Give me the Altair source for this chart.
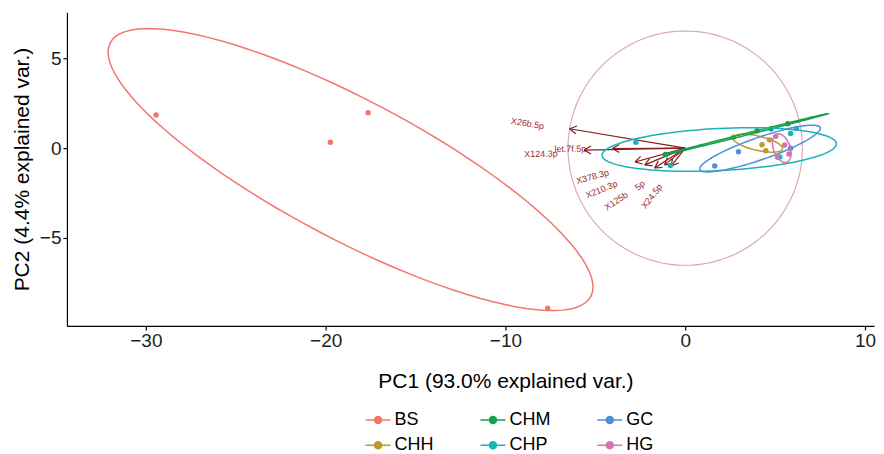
import numpy as np
import pandas as pd
import altair as alt

# ---------------- data ----------------
groups = ["BS", "CHH", "CHM", "CHP", "GC", "HG"]
group_colors = ["#F3766E", "#B99C27", "#13A24A", "#17B4BA", "#4F8FD6", "#D672B5"]
legend_order = ["BS", "CHM", "GC", "CHH", "CHP", "HG"]

bs_pc1 = [-29.43, -19.74, -17.64, -7.65]
bs_pc2 = [1.84, 0.33, 1.97, -8.91]
chh_pc1 = [2.68, 4.27, 4.48, 4.69]
chh_pc2 = [0.60, 0.19, -0.15, 0.46]
chm_pc1 = [-1.10, 4.00, 4.77, 5.70]
chm_pc2 = [-0.36, 0.97, 1.08, 1.36]
chp_pc1 = [-2.74, -0.82, 5.86, 5.26]
chp_pc2 = [0.33, -0.97, 0.82, -0.49]
gc_pc1 = [1.64, 2.96, 5.86, 6.19]
gc_pc2 = [-0.99, -0.20, 0.00, 1.10]
hg_pc1 = [5.04, 5.53, 5.13, 5.77]
hg_pc2 = [0.66, 0.18, -0.51, -0.33]

var_names = ["X26b.5p", "let.7f.5p", "X124.3p", "X378.3p", "X210.3p", "X125b", "5p", "X24.5p"]
var_pc1 = [-6.43, -4.05, -5.62, -2.79, -2.25, -1.70, -1.15, -0.77]
var_pc2 = [1.08, -0.02, -0.11, -0.77, -0.93, -1.10, -0.93, -0.99]
label_pc1 = [-8.77, -6.39, -8.03, -5.15, -4.66, -3.84, -2.52, -1.86]
label_pc2 = [1.37, -0.04, -0.32, -1.59, -2.30, -2.94, -2.08, -2.68]

circle_radius = 6.52
ellipse_prob = 0.68
x_ticks = [-30, -20, -10, 0, 10]
y_ticks = [-5, 0, 5]

# ---------------- tables ----------------
pc1 = {"BS": bs_pc1, "CHH": chh_pc1, "CHM": chm_pc1, "CHP": chp_pc1, "GC": gc_pc1, "HG": hg_pc1}
pc2 = {"BS": bs_pc2, "CHH": chh_pc2, "CHM": chm_pc2, "CHP": chp_pc2, "GC": gc_pc2, "HG": hg_pc2}

pts = pd.DataFrame(
    [(g, a, b) for g in groups for a, b in zip(pc1[g], pc2[g])],
    columns=["grp", "PC1", "PC2"],
)

# normal-theory ellipses (as in ggbiplot)
ed = np.sqrt(-2.0 * np.log(1.0 - ellipse_prob))
theta = np.linspace(-np.pi, np.pi, 101)
unit = np.column_stack([np.cos(theta), np.sin(theta)])
ell_rows = []
for g in groups:
    m = np.column_stack([pc1[g], pc2[g]])
    mu = m.mean(axis=0)
    sigma = np.cov(m, rowvar=False)
    L = np.linalg.cholesky(sigma)
    e = unit @ L.T * ed + mu
    for i, (a, b) in enumerate(e):
        ell_rows.append((g, i, a, b))
ell = pd.DataFrame(ell_rows, columns=["group", "order", "PC1", "PC2"])

circ = pd.DataFrame({
    "order": np.arange(101),
    "PC1": circle_radius * np.cos(np.linspace(0, 2 * np.pi, 101)),
    "PC2": circle_radius * np.sin(np.linspace(0, 2 * np.pi, 101)),
})

# arrows: shafts + open heads
head_len = 0.44
head_ang = np.deg2rad(30)
seg_rows = []
for vx, vy in zip(var_pc1, var_pc2):
    seg_rows.append((0.0, 0.0, vx, vy))
    ang = np.arctan2(vy, vx)
    for s in (-1, 1):
        a = ang + np.pi + s * head_ang
        seg_rows.append((vx, vy, vx + head_len * np.cos(a), vy + head_len * np.sin(a)))
segs = pd.DataFrame(seg_rows, columns=["x", "y", "x2", "y2"])

labs = pd.DataFrame({
    "name": var_names,
    "PC1": label_pc1,
    "PC2": label_pc2,
    "ang": [(-np.degrees(np.arctan(vy / vx))) % 360 for vx, vy in zip(var_pc1, var_pc2)],
})

# ---------------- chart ----------------
FONT = "Liberation Sans"
W, H = 808, 314
xs = alt.Scale(domain=[-34.39, 10.5], nice=False, zero=False)
ys = alt.Scale(domain=[-9.89, 7.56], nice=False, zero=False)

x_axis = alt.Axis(values=x_ticks, grid=False, title="PC1 (93.0% explained var.)",
                  titleX=439, titleFontSize=21, titleFontWeight="normal", titleFont=FONT,
                  titleColor="black", titlePadding=20, labelFontSize=19, labelFont=FONT,
                  labelColor="#222222", labelPadding=2, tickSize=4, tickColor="black",
                  domainColor="black", domainWidth=1.2, tickWidth=1.2)
y_axis = alt.Axis(values=y_ticks, grid=False, title="PC2 (4.4% explained var.)",
                  titleFontSize=21, titleFontWeight="normal", titleFont=FONT,
                  titleColor="black", titlePadding=7, labelFontSize=19, labelFont=FONT,
                  labelColor="#222222", labelPadding=2, tickSize=4, tickColor="black",
                  domainColor="black", domainWidth=1.2, tickWidth=1.2)

sym_path = "M-1,0L1,0M-0.28,0A0.28,0.28,0,1,0,0.28,0A0.28,0.28,0,1,0,-0.28,0Z"
legend = alt.Legend(
    orient="none", legendX=298, legendY=394.5, direction="horizontal", columns=3,
    title=None, symbolType=sym_path, symbolSize=625, symbolStrokeWidth=1.5,
    labelFontSize=18, labelFont=FONT, labelColor="black",
    labelOffset=3, columnPadding=44, rowPadding=2.6, padding=0, symbolOpacity=1,
)

range_ordered = [group_colors[groups.index(g)] for g in legend_order]
fill_enc = alt.Fill("grp:N", scale=alt.Scale(domain=legend_order, range=range_ordered),
                    legend=legend)
stroke_enc = alt.Stroke("group:N", scale=alt.Scale(domain=legend_order, range=range_ordered),
                        legend=legend)

circle_layer = alt.Chart(circ).mark_line(color="#D9A3B6", strokeWidth=1.1).encode(
    x=alt.X("PC1:Q", scale=xs, axis=x_axis),
    y=alt.Y("PC2:Q", scale=ys, axis=y_axis),
    order="order:Q",
)
arrow_layer = alt.Chart(segs).mark_rule(color="#8B1A1A", strokeWidth=1.2).encode(
    x=alt.X("x:Q", scale=xs), y=alt.Y("y:Q", scale=ys), x2="x2:Q", y2="y2:Q",
)
point_layer = alt.Chart(pts).mark_point(filled=True, size=30, opacity=1).encode(
    x=alt.X("PC1:Q", scale=xs), y=alt.Y("PC2:Q", scale=ys), fill=fill_enc,
)
ellipse_layer = alt.Chart(ell).mark_line(strokeWidth=1.5).encode(
    x=alt.X("PC1:Q", scale=xs), y=alt.Y("PC2:Q", scale=ys), stroke=stroke_enc,
    detail="group:N", order="order:Q",
)
label_layer = alt.Chart(labs).mark_text(font=FONT, fontSize=9, color="#8B0000", opacity=0.85,
                                        align="center", baseline="middle").encode(
    x=alt.X("PC1:Q", scale=xs), y=alt.Y("PC2:Q", scale=ys),
    text="name:N", angle=alt.Angle("ang:Q", scale=None),
)

chart = alt.layer(circle_layer, arrow_layer, point_layer, ellipse_layer, label_layer).properties(
    width=W, height=H, padding={"left": 3, "top": 4, "right": 0, "bottom": 0},
).configure_view(stroke=None)

chart.save("out.html", embed_options={"renderer": "svg", "actions": False})
